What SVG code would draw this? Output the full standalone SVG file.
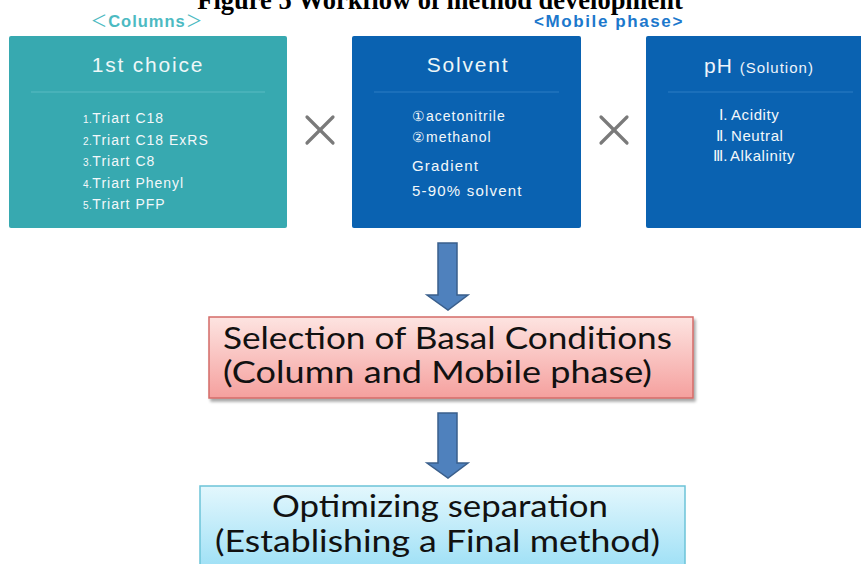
<svg xmlns="http://www.w3.org/2000/svg" width="861" height="564" viewBox="0 0 861 564">
<defs>
<linearGradient id="gRed" x1="0" y1="0" x2="0" y2="1">
<stop offset="0" stop-color="#fde4e1"/>
<stop offset="1" stop-color="#f5a09e"/>
</linearGradient>
<linearGradient id="gBlue" x1="0" y1="0" x2="0" y2="1">
<stop offset="0" stop-color="#e3f7fd"/>
<stop offset="1" stop-color="#98def5"/>
</linearGradient>
<filter id="sh" x="-5%" y="-10%" width="115%" height="130%">
<feGaussianBlur in="SourceAlpha" stdDeviation="1.5"/>
<feOffset dx="1.5" dy="2.5"/>
<feComponentTransfer><feFuncA type="linear" slope="0.35"/></feComponentTransfer>
<feMerge><feMergeNode/><feMergeNode in="SourceGraphic"/></feMerge>
</filter>
</defs>
<style>
.hdr{font-family:"Liberation Sans",Arial,sans-serif;fill:#eef7f8;font-size:21px;letter-spacing:1.8px;text-anchor:middle}
.item{font-family:"Liberation Sans",Arial,sans-serif;fill:#f3f8fa;font-size:14px;letter-spacing:1px}
.num{font-size:10px;letter-spacing:0.5px}
.sep{stroke-width:1.2}
.big{font-family:Lato,"Liberation Sans",sans-serif;fill:#111;font-size:30px}
.x{stroke:#7a7a7a;stroke-width:3.2;stroke-linecap:round}
.arrow{fill:#4f81bd;stroke:#3a5f8c;stroke-width:1.5}
</style>
<rect width="861" height="564" fill="#ffffff"/>
<text x="440" y="9" font-family="'Liberation Serif','Times New Roman',serif" font-weight="bold" font-size="26.5" text-anchor="middle" fill="#000">Figure 5 Workflow of method development</text>
<text x="147" y="26.5" font-family="'Liberation Sans','Noto Sans CJK JP',sans-serif" font-size="16.5" letter-spacing="1" text-anchor="middle" fill="#4cbac2">＜<tspan font-weight="bold">Columns</tspan>＞</text>
<text x="609" y="26.5" font-family="'Liberation Sans',Arial,sans-serif" font-weight="bold" font-size="17" letter-spacing="1.6" text-anchor="middle" fill="#1c78cc">&lt;Mobile phase&gt;</text>

<g id="columns">
<rect x="9" y="36" width="278" height="192" rx="2" fill="#37a9b0"/>
<text class="hdr" x="148" y="72">1st choice</text>
<line class="sep" x1="31" y1="92" x2="265" y2="92" stroke="#5bbcc2"/>
<text class="item" x="83" y="123"><tspan class="num">1.</tspan>Triart C18</text>
<text class="item" x="83" y="144.5"><tspan class="num">2.</tspan>Triart C18 ExRS</text>
<text class="item" x="83" y="166"><tspan class="num">3.</tspan>Triart C8</text>
<text class="item" x="83" y="187.5"><tspan class="num">4.</tspan>Triart Phenyl</text>
<text class="item" x="83" y="209"><tspan class="num">5.</tspan>Triart PFP</text>
</g>

<g id="solvent">
<rect x="352" y="36" width="229" height="192" rx="2" fill="#0a62b1"/>
<text class="hdr" x="468" y="72">Solvent</text>
<line class="sep" x1="374" y1="92" x2="559" y2="92" stroke="#2c7cc4"/>
<text class="item" x="412" y="121" font-size="15">①acetonitrile</text>
<text class="item" x="412" y="142" font-size="15">②methanol</text>
<text class="item" x="412" y="171" style="font-size:15px;letter-spacing:1.2px">Gradient</text>
<text class="item" x="412" y="196" style="font-size:15px;letter-spacing:1.2px">5-90% solvent</text>
</g>

<g id="ph">
<rect x="646" y="36" width="220" height="192" rx="2" fill="#0a62b1"/>
<text x="704" y="73" font-family="'Liberation Sans',Arial,sans-serif" fill="#eef4fa" font-size="21" letter-spacing="1">pH <tspan font-size="15" letter-spacing="1">(Solution)</tspan></text>
<line class="sep" x1="668" y1="92" x2="853" y2="92" stroke="#2c7cc4"/>
<text class="item" y="120" style="font-size:15px;letter-spacing:0.6px"><tspan x="728" text-anchor="end">Ⅰ.</tspan><tspan x="731">Acidity</tspan></text>
<text class="item" y="141" style="font-size:15px;letter-spacing:0.6px"><tspan x="728" text-anchor="end">Ⅱ.</tspan><tspan x="731">Neutral</tspan></text>
<text class="item" y="161" style="font-size:15px;letter-spacing:0.6px"><tspan x="728" text-anchor="end">Ⅲ.</tspan><tspan x="730">Alkalinity</tspan></text>
</g>

<g id="times1"><line class="x" x1="307" y1="117" x2="333" y2="143"/><line class="x" x1="333" y1="117" x2="307" y2="143"/></g>
<g id="times2"><line class="x" x1="601" y1="117" x2="627" y2="143"/><line class="x" x1="627" y1="117" x2="601" y2="143"/></g>

<g id="connectors">
<path class="arrow" d="M438,243 H457 V295 H468 L448,310 L427,295 H438 Z"/>
<path class="arrow" d="M438,413 H457 V463 H468 L448,478 L427,463 H438 Z"/>
</g>

<g id="basal">
<rect x="209" y="317" width="484" height="81" fill="url(#gRed)" stroke="#d46b68" stroke-width="1.5" filter="url(#sh)"/>
<text class="big" x="223" y="349" textLength="449" lengthAdjust="spacingAndGlyphs">Selection of Basal Conditions</text>
<text class="big" x="223" y="383" textLength="429" lengthAdjust="spacingAndGlyphs">(Column and Mobile phase)</text>
</g>

<g id="optimize">
<rect x="200" y="486" width="485" height="90" fill="url(#gBlue)" stroke="#6cc3d8" stroke-width="1.5"/>
<text class="big" x="272" y="517" textLength="336" lengthAdjust="spacingAndGlyphs">Optimizing separation</text>
<text class="big" x="215" y="552" textLength="445" lengthAdjust="spacingAndGlyphs">(Establishing a Final method)</text>
</g>
</svg>
